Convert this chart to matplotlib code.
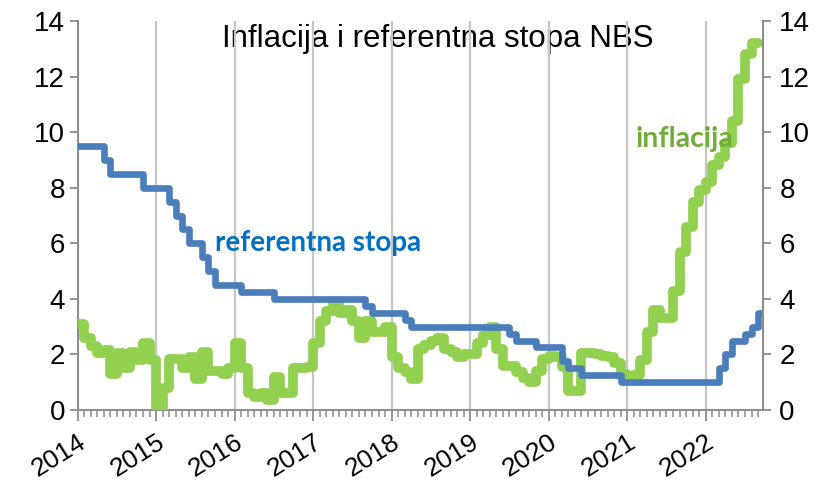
import matplotlib
matplotlib.use("Agg")
import matplotlib.pyplot as plt
import numpy as np

# ---------------- data ----------------
years = [2014, 2015, 2016, 2017, 2018, 2019, 2020, 2021, 2022]
start_year = 2014

# NBS key policy rate, monthly from Jan 2014 to Sep 2022 (%)
referentna_stopa = (
    [9.5, 9.5, 9.5, 9.5, 9.0, 8.5, 8.5, 8.5, 8.5, 8.5, 8.0, 8.0]          # 2014
    + [8.0, 8.0, 7.5, 7.0, 6.5, 6.0, 6.0, 5.5, 5.0, 4.5, 4.5, 4.5]        # 2015
    + [4.5, 4.25, 4.25, 4.25, 4.25, 4.25, 4.0, 4.0, 4.0, 4.0, 4.0, 4.0]   # 2016
    + [4.0, 4.0, 4.0, 4.0, 4.0, 4.0, 4.0, 4.0, 3.75, 3.5, 3.5, 3.5]       # 2017
    + [3.5, 3.5, 3.25, 3.0, 3.0, 3.0, 3.0, 3.0, 3.0, 3.0, 3.0, 3.0]       # 2018
    + [3.0, 3.0, 3.0, 3.0, 3.0, 3.0, 2.75, 2.5, 2.5, 2.5, 2.25, 2.25]     # 2019
    + [2.25, 2.25, 1.75, 1.5, 1.5, 1.25, 1.25, 1.25, 1.25, 1.25, 1.25, 1.0]  # 2020
    + [1.0, 1.0, 1.0, 1.0, 1.0, 1.0, 1.0, 1.0, 1.0, 1.0, 1.0, 1.0]        # 2021
    + [1.0, 1.0, 1.5, 2.0, 2.5, 2.5, 2.75, 3.0, 3.5]                       # 2022
)

# CPI inflation y/y, monthly from Jan 2014 to Aug 2022 (%)
inflacija = (
    [3.1, 2.6, 2.3, 2.05, 2.15, 1.3, 2.05, 1.5, 2.1, 1.8, 2.4, 1.8]       # 2014
    + [0.1, 0.8, 1.85, 1.85, 1.5, 1.9, 1.1, 2.1, 1.4, 1.4, 1.3, 1.5]      # 2015
    + [2.4, 1.5, 0.6, 0.45, 0.6, 0.35, 1.2, 0.6, 0.6, 1.5, 1.5, 1.55]     # 2016
    + [2.4, 3.2, 3.55, 3.9, 3.5, 3.6, 3.2, 2.6, 3.2, 2.8, 2.8, 3.0]       # 2017
    + [1.9, 1.5, 1.35, 1.1, 2.2, 2.35, 2.5, 2.6, 2.2, 2.1, 1.9, 2.0]      # 2018
    + [2.0, 2.4, 2.7, 3.0, 2.2, 1.6, 1.6, 1.35, 1.15, 1.0, 1.4, 1.85]     # 2019
    + [1.95, 1.9, 1.55, 0.7, 0.7, 2.05, 2.05, 2.0, 1.95, 1.9, 1.7, 1.3]   # 2020
    + [1.2, 1.25, 1.8, 2.8, 3.6, 3.3, 3.3, 4.3, 5.7, 6.6, 7.5, 7.9]       # 2021
    + [8.2, 8.8, 9.1, 9.6, 10.4, 11.9, 12.8, 13.2]                         # 2022
)

label_stopa = "referentna stopa"
label_infl = "inflacija"
title = "Inflacija i referentna stopa NBS"

# ---------------- styling ----------------
plt.rcParams["font.family"] = ["Liberation Sans", "DejaVu Sans"]
BLUE = "#4a7ebb"
GREEN = "#92d050"
GRID = "#c6c6c6"
SPINE = "#8c8c8c"
TICK_FS = 20

fig = plt.figure(figsize=(8.32, 4.84), dpi=100)
ax = fig.add_axes([0.0932, 0.1529, 0.8235, 0.8037])

# step series: month index as x, extend last value by one month
def step_xy(vals):
    v = np.asarray(vals, dtype=float)
    x = np.arange(len(v) + 1)
    return x, np.append(v, v[-1])

xg, yg = step_xy(inflacija)
xb, yb = step_xy(referentna_stopa)
ax.step(xg, yg, where="post", color=GREEN, lw=7.0, solid_joinstyle="round",
        solid_capstyle="round", zorder=3)
ax.step(xb, yb, where="post", color=BLUE, lw=4.8, solid_joinstyle="round",
        solid_capstyle="round", zorder=4)

n_months = len(referentna_stopa)
ax.set_xlim(0, n_months - 0.3)
ax.set_ylim(0, 14)

major = [(y - start_year) * 12 for y in years]
ax.set_xticks(major)
ax.set_xticklabels([str(y) for y in years], rotation=32, ha="right",
                   va="top", rotation_mode="anchor", fontsize=19)
ax.set_xticks(np.arange(0, n_months), minor=True)
ax.tick_params(axis="x", which="major", length=8, width=1.3, color=SPINE, pad=6)
ax.tick_params(axis="x", which="minor", length=5, width=1.1, color=SPINE)

ax.set_yticks(np.arange(0, 15, 2))
ax.tick_params(axis="y", which="major", length=6, width=1.3, color=SPINE,
               labelsize=TICK_FS, pad=3)

ax.grid(axis="x", which="major", color=GRID, lw=1.6)
ax.set_axisbelow(True)

ax.spines["top"].set_visible(False)
for s in ["left", "bottom", "right"]:
    ax.spines[s].set_color(SPINE)
    ax.spines[s].set_linewidth(1.4)

ax2 = ax.twinx()
ax2.set_ylim(0, 14)
ax2.set_yticks(np.arange(0, 15, 2))
ax2.tick_params(axis="y", length=6, width=1.3, color=SPINE,
                labelsize=TICK_FS, pad=6)
for s in ["top", "left", "bottom"]:
    ax2.spines[s].set_visible(False)
ax2.spines["right"].set_color(SPINE)
ax2.spines["right"].set_linewidth(1.4)

ax.text(0.526, 0.955, title, transform=ax.transAxes, ha="center", va="center",
        fontsize=22.5, color="black", zorder=0.2)
ax.text(21, 6.0, label_stopa, ha="left", va="center", fontsize=20,
        fontweight="bold", color="#0070c0", family="Lato", zorder=5)
ax.text(85.3, 9.75, label_infl, ha="left", va="center", fontsize=20.5,
        fontweight="bold", color="#72ad3a", family="Lato", zorder=5)

fig.savefig("out.png", dpi=100)
